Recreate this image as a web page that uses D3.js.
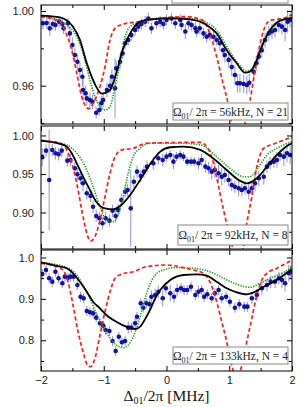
<!DOCTYPE html>
<html>
<head>
<meta charset="utf-8">
<script src="https://cdn.jsdelivr.net/npm/d3@7"></script>
<style>
  html, body { margin: 0; padding: 0; background: #fff; }
  svg { display: block; }
  .axis text { font-family: "Liberation Sans", Arial, sans-serif; font-size: 11px; fill: #222; }
  .axis line { stroke: #000; }
  .note { font-family: "Liberation Serif", "Times New Roman", serif; font-size: 11.5px; fill: #222; }
  .xtitle { font-family: "Liberation Serif", "Times New Roman", serif; font-size: 15.5px; fill: #111; }
</style>
</head>
<body>
<div id="chart"></div>
<script>
// ---- data ----
var xMajor = [-2, -1, 0, 1, 2],
    xMinor = [-1.5, -0.5, 0.5, 1.5];

var yMajor1 = [1.00, 0.96], yMinor1 = [0.98, 0.94];
var yMajor2 = [1.00, 0.95, 0.90], yMinor2 = [0.975, 0.925, 0.875];
var yMajor3 = [1.0, 0.9, 0.8], yMinor3 = [0.95, 0.85, 0.75];

var notes = ["56kHz, N = 21", "92kHz, N = 8", "133kHz, N = 4"];

// measured points: [detuning, signal, error]
var points1 = [[-1.97,0.9934,0.003],[-1.91,0.9936,0.003],[-1.86,0.9907,0.004],[-1.81,0.9930,0.003],[-1.77,0.9925,0.003],
  [-1.71,0.9943,0.003],[-1.66,0.9930,0.003],[-1.64,0.9907,0.003],[-1.57,0.9934,0.003],[-1.54,0.9880,0.004],
  [-1.50,0.9818,0.004],[-1.46,0.9764,0.004],[-1.42,0.9728,0.004],[-1.38,0.9684,0.004],[-1.34,0.9648,0.005],
  [-1.33,0.9577,0.006],[-1.29,0.9560,0.004],[-1.27,0.9532,0.004],[-1.22,0.9523,0.004],[-1.18,0.9514,0.004],
  [-1.12,0.9455,0.003],[-1.07,0.9470,0.003],[-1.04,0.9506,0.004],[-1.01,0.9523,0.004],[-0.95,0.9577,0.004],
  [-0.90,0.9600,0.004],[-0.87,0.9648,0.004],[-0.82,0.9586,0.016],[-0.80,0.9693,0.004],[-0.74,0.9728,0.004],
  [-0.70,0.9773,0.003],[-0.66,0.9827,0.003],[-0.61,0.9845,0.003],[-0.56,0.9871,0.003],[-0.50,0.9898,0.003],
  [-0.45,0.9916,0.003],[-0.40,0.9930,0.003],[-0.34,0.9943,0.003],[-0.29,0.9960,0.003],[-0.24,0.9907,0.003],
  [-0.16,0.9934,0.003],[-0.10,0.9943,0.003],[-0.05,0.9930,0.003],[0.00,0.9952,0.003],[0.08,0.9960,0.003],
  [0.14,0.9934,0.003],[0.22,0.9952,0.003],[0.24,0.9925,0.003],[0.30,0.9890,0.004],[0.35,0.9934,0.003],
  [0.40,0.9925,0.003],[0.46,0.9907,0.003],[0.48,0.9890,0.003],[0.53,0.9907,0.003],[0.59,0.9880,0.003],
  [0.64,0.9862,0.003],[0.69,0.9871,0.003],[0.75,0.9862,0.003],[0.80,0.9845,0.003],[0.85,0.9827,0.004],
  [0.90,0.9790,0.004],[0.93,0.9764,0.004],[0.99,0.9738,0.004],[1.04,0.9700,0.005],[1.09,0.9657,0.005],
  [1.13,0.9613,0.005],[1.17,0.9613,0.005],[1.23,0.9609,0.005],[1.28,0.9604,0.005],[1.32,0.9616,0.005],
  [1.39,0.9675,0.004],[1.43,0.9720,0.004],[1.47,0.9755,0.004],[1.52,0.9790,0.004],[1.57,0.9845,0.004],
  [1.63,0.9880,0.004],[1.68,0.9890,0.004],[1.73,0.9898,0.004],[1.79,0.9925,0.004],[1.84,0.9916,0.004],
  [1.89,0.9898,0.006],[1.93,0.9943,0.006],[1.97,0.9952,0.004]];

var points2 = [[-1.98,0.9717,0.012],[-1.92,0.9803,0.008],[-1.87,0.9422,0.065],[-1.82,0.9812,0.008],[-1.77,0.9769,0.008],
  [-1.72,0.9756,0.008],[-1.67,0.9803,0.008],[-1.58,0.9673,0.008],[-1.53,0.9682,0.008],[-1.46,0.9574,0.008],
  [-1.42,0.9496,0.008],[-1.37,0.9444,0.008],[-1.33,0.9379,0.010],[-1.27,0.9250,0.008],[-1.21,0.9214,0.008],
  [-1.17,0.9075,0.008],[-1.12,0.8955,0.008],[-1.07,0.8925,0.008],[-1.02,0.8860,0.008],[-0.97,0.8925,0.008],
  [-0.91,0.8894,0.008],[-0.86,0.9023,0.008],[-0.81,0.8955,0.008],[-0.77,0.9032,0.008],[-0.72,0.9162,0.008],
  [-0.66,0.9270,0.008],[-0.62,0.9292,0.008],[-0.57,0.9054,0.050],[-0.52,0.9400,0.008],[-0.47,0.9530,0.008],
  [-0.41,0.9474,0.008],[-0.36,0.9530,0.008],[-0.31,0.9595,0.008],[-0.21,0.9639,0.008],[-0.13,0.9704,0.008],
  [-0.06,0.9682,0.008],[0.00,0.9725,0.006],[0.06,0.9747,0.006],[0.11,0.9660,0.010],[0.16,0.9725,0.006],
  [0.22,0.9747,0.006],[0.27,0.9725,0.006],[0.33,0.9660,0.006],[0.39,0.9660,0.006],[0.44,0.9660,0.006],
  [0.51,0.9639,0.008],[0.56,0.9682,0.008],[0.62,0.9595,0.008],[0.67,0.9574,0.008],[0.72,0.9530,0.010],
  [0.77,0.9552,0.010],[0.83,0.9509,0.011],[0.88,0.9465,0.011],[0.93,0.9487,0.010],[0.99,0.9422,0.008],
  [1.04,0.9357,0.008],[1.09,0.9335,0.008],[1.15,0.9314,0.010],[1.20,0.9292,0.008],[1.25,0.9314,0.008],
  [1.31,0.9270,0.010],[1.36,0.9314,0.008],[1.41,0.9379,0.010],[1.47,0.9444,0.010],[1.55,0.9465,0.010],
  [1.60,0.9595,0.008],[1.65,0.9639,0.008],[1.71,0.9660,0.008],[1.76,0.9682,0.010],[1.81,0.9747,0.008],
  [1.87,0.9725,0.012],[1.92,0.9769,0.012],[1.97,0.9747,0.012]];

var points3 = [[-1.98,0.9600,0.012],[-1.92,0.9698,0.012],[-1.87,0.9498,0.012],[-1.82,0.9416,0.012],[-1.77,0.9657,0.012],
  [-1.72,0.9498,0.012],[-1.66,0.9376,0.012],[-1.62,0.9537,0.012],[-1.57,0.9513,0.012],[-1.53,0.9537,0.012],
  [-1.48,0.9537,0.012],[-1.42,0.9336,0.012],[-1.37,0.9053,0.012],[-1.32,0.9014,0.012],[-1.27,0.8708,0.012],
  [-1.22,0.8676,0.012],[-1.17,0.8651,0.012],[-1.12,0.8547,0.012],[-1.06,0.8410,0.012],[-1.01,0.8353,0.012],
  [-0.97,0.8249,0.012],[-0.91,0.8225,0.012],[-0.86,0.7983,0.012],[-0.81,0.7742,0.012],[-0.76,0.8087,0.012],
  [-0.71,0.7951,0.012],[-0.66,0.7983,0.012],[-0.61,0.8305,0.015],[-0.56,0.8305,0.012],[-0.50,0.8410,0.012],
  [-0.47,0.8570,0.012],[-0.41,0.8894,0.012],[-0.37,0.8787,0.012],[-0.32,0.8894,0.012],[-0.27,0.8870,0.012],
  [-0.24,0.9053,0.015],[-0.18,0.9094,0.015],[-0.13,0.9174,0.015],[-0.06,0.9014,0.020],[-0.01,0.9256,0.015],
  [0.06,0.9135,0.020],[0.12,0.9053,0.015],[0.17,0.9215,0.015],[0.23,0.9256,0.012],[0.28,0.9215,0.012],
  [0.33,0.9215,0.012],[0.39,0.9295,0.012],[0.46,0.9094,0.012],[0.51,0.9174,0.015],[0.56,0.9215,0.012],
  [0.60,0.9053,0.012],[0.65,0.9111,0.012],[0.72,0.9014,0.012],[0.77,0.9135,0.012],[0.83,0.9215,0.012],
  [0.88,0.9014,0.012],[0.95,0.9053,0.012],[1.01,0.8932,0.012],[1.09,0.8787,0.012],[1.16,0.8870,0.012],
  [1.24,0.8812,0.012],[1.29,0.8812,0.012],[1.36,0.9014,0.015],[1.44,0.9094,0.015],[1.52,0.9256,0.015],
  [1.60,0.9336,0.015],[1.66,0.9416,0.015],[1.73,0.9416,0.015],[1.79,0.9498,0.015],[1.84,0.9457,0.020],
  [1.89,0.9376,0.020],[1.95,0.9618,0.020],[1.98,0.9657,0.015]];

// model curves: [detuning, signal]
var black1 = [[-2.0,0.9975],[-1.70,0.9966],[-1.49,0.9916],[-1.38,0.9845],[-1.27,0.972],[-1.17,0.963],[-1.03,0.9558],
  [-0.90,0.9577],[-0.80,0.9667],[-0.70,0.979],[-0.58,0.988],[-0.42,0.9943],[-0.26,0.9955],[0.06,0.996],[0.375,0.9955],
  [0.64,0.9925],[0.80,0.988],[0.96,0.979],[1.12,0.972],[1.25,0.967],[1.33,0.9675],[1.44,0.9738],[1.54,0.9828],
  [1.65,0.9898],[1.81,0.9948],[2.0,0.9962]];
var red1 = [[-2.0,0.997],[-1.70,0.9943],[-1.60,0.988],[-1.51,0.979],[-1.43,0.9667],[-1.35,0.954],[-1.24,0.9477],
  [-1.17,0.9506],[-1.06,0.9595],[-0.98,0.970],[-0.90,0.9845],[-0.82,0.9907],[-0.69,0.993],[-0.42,0.9943],[-0.1,0.996],
  [0.3,0.997],[0.58,0.995],[0.69,0.988],[0.80,0.9755],[0.90,0.9614],[0.98,0.9507],[1.04,0.9395],[1.10,0.928],
  [1.155,0.924],[1.21,0.928],[1.25,0.9395],[1.33,0.952],[1.44,0.9738],[1.55,0.9898],[1.65,0.995],[1.86,0.996],[2.0,0.998]];
var green1 = [[-2.0,0.9972],[-1.80,0.996],[-1.59,0.9925],[-1.43,0.9862],[-1.33,0.9773],[-1.22,0.963],[-1.14,0.954],
  [-1.06,0.9488],[-0.98,0.947],[-0.90,0.9488],[-0.82,0.9595],[-0.74,0.972],[-0.66,0.9862],[-0.58,0.9916],[-0.42,0.994],
  [-0.26,0.9955],[0.06,0.9965],[0.375,0.996],[0.64,0.9937],[0.80,0.9898],[0.96,0.981],[1.12,0.9728],[1.28,0.9679],
  [1.38,0.9693],[1.49,0.9773],[1.60,0.9862],[1.76,0.9934],[2.0,0.9965]];

var black2 = [[-2.0,0.9932],[-1.70,0.989],[-1.59,0.9855],[-1.51,0.9769],[-1.43,0.9639],[-1.33,0.9465],[-1.22,0.9292],
  [-1.12,0.914],[-0.98,0.9054],[-0.85,0.9041],[-0.72,0.9097],[-0.58,0.9227],[-0.42,0.9422],[-0.26,0.963],[-0.10,0.979],
  [0.06,0.9847],[0.27,0.9855],[0.54,0.9812],[0.74,0.9704],[0.96,0.9552],[1.15,0.9422],[1.28,0.9379],[1.44,0.9444],
  [1.60,0.9595],[1.76,0.9747],[1.92,0.9864],[2.0,0.9899]];
var red2 = [[-2.0,0.9932],[-1.70,0.9902],[-1.59,0.9812],[-1.51,0.964],[-1.43,0.938],[-1.35,0.903],[-1.27,0.873],
  [-1.21,0.863],[-1.14,0.8686],[-1.06,0.890],[-0.98,0.9205],[-0.90,0.951],[-0.82,0.9725],[-0.72,0.981],[-0.53,0.9834],
  [-0.32,0.9899],[0.0,0.9907],[0.54,0.991],[0.64,0.9855],[0.75,0.964],[0.83,0.9335],[0.91,0.903],[0.99,0.875],
  [1.06,0.853],[1.13,0.835],[1.22,0.853],[1.28,0.886],[1.36,0.9205],[1.44,0.9595],[1.55,0.9834],[1.71,0.989],[2.0,0.998]];
var green2 = [[-2.0,0.9932],[-1.80,0.991],[-1.59,0.9877],[-1.43,0.9769],[-1.27,0.9552],[-1.17,0.9335],[-1.06,0.9075],
  [-0.96,0.890],[-0.85,0.888],[-0.77,0.8968],[-0.69,0.9205],[-0.61,0.951],[-0.53,0.9725],[-0.42,0.9834],[-0.26,0.9899],
  [0.2,0.990],[0.54,0.9877],[0.80,0.9725],[1.01,0.9574],[1.23,0.9465],[1.33,0.9465],[1.47,0.9595],[1.60,0.9747],
  [1.76,0.9834],[2.0,0.992]];

var black3 = [[-2.0,0.9884],[-1.75,0.9795],[-1.59,0.974],[-1.49,0.9618],[-1.38,0.9416],[-1.27,0.9174],[-1.17,0.8932],
  [-1.06,0.8772],[-0.96,0.8611],[-0.80,0.845],[-0.64,0.8329],[-0.50,0.8273],[-0.42,0.8329],[-0.32,0.857],[-0.26,0.874],
  [-0.18,0.9014],[-0.10,0.9215],[0.06,0.9457],[0.27,0.9577],[0.48,0.9594],[0.64,0.956],[0.80,0.9416],[0.96,0.9256],
  [1.12,0.9159],[1.28,0.9111],[1.39,0.9159],[1.55,0.9295],[1.71,0.9416],[1.87,0.9577],[2.0,0.9722]];
var red3 = [[-2.0,0.986],[-1.75,0.9775],[-1.65,0.9698],[-1.57,0.9416],[-1.49,0.8853],[-1.41,0.8208],[-1.33,0.7725],
  [-1.26,0.7403],[-1.21,0.7362],[-1.14,0.7565],[-1.06,0.8128],[-0.98,0.8691],[-0.90,0.9174],[-0.82,0.9498],[-0.72,0.9594],
  [-0.53,0.9657],[-0.32,0.9778],[0.0,0.9819],[0.27,0.9754],[0.43,0.9698],[0.59,0.9618],[0.69,0.9416],[0.80,0.8932],
  [0.88,0.845],[0.96,0.7966],[1.03,0.745],[1.12,0.71],[1.21,0.745],[1.28,0.7966],[1.36,0.853],[1.44,0.9094],
  [1.52,0.9457],[1.60,0.9618],[1.76,0.974],[2.0,0.994]];
var green3 = [[-2.0,0.9884],[-1.59,0.9754],[-1.43,0.9577],[-1.33,0.9336],[-1.22,0.9014],[-1.12,0.8651],[-1.01,0.8329],
  [-0.90,0.8048],[-0.80,0.7886],[-0.69,0.7822],[-0.61,0.7886],[-0.53,0.8087],[-0.45,0.841],[-0.37,0.8853],[-0.29,0.9256],
  [-0.18,0.9577],[-0.05,0.9698],[0.16,0.9754],[0.43,0.974],[0.69,0.9657],[0.91,0.9498],[1.12,0.9352],[1.33,0.928],
  [1.49,0.9376],[1.65,0.9498],[1.87,0.9642],[2.0,0.9778]];

// ---- layout ----
var width = 299, height = 407,
    left = 41, right = 292;

var panels = [
  {top: 5,   bottom: 124, domain: [0.9395, 1.0032], major: yMajor1, minor: yMinor1, fmt: ".2f",
   points: points1, black: black1, red: red1, green: green1, note: notes[0], box: [173, 103, 115, 17]},
  {top: 126, bottom: 249, domain: [0.8526, 1.0123], major: yMajor2, minor: yMinor2, fmt: ".2f",
   points: points2, black: black2, red: red2, green: green2, note: notes[1], box: [178, 225, 110, 20]},
  {top: 250, bottom: 371, domain: [0.7258, 1.0181], major: yMajor3, minor: yMinor3, fmt: ".1f",
   points: points3, black: black3, red: red3, green: green3, note: notes[2], box: [173, 347, 115, 17]}
];

var svg = d3.select("#chart").append("svg")
    .attr("width", width)
    .attr("height", height);

var x = d3.scaleLinear().domain([-2, 2]).range([left, right]);

// partly cut-off box at the very top
svg.append("rect")
    .attr("x", 172).attr("y", -10)
    .attr("width", 116).attr("height", 13)
    .attr("fill", "#fff").attr("stroke", "#888");

panels.forEach(function(p, i) {
    var y = d3.scaleLinear().domain(p.domain).range([p.bottom, p.top]);
    var g = svg.append("g");

    g.append("clipPath").attr("id", "clip" + i)
        .append("rect")
        .attr("x", left).attr("y", p.top)
        .attr("width", right - left).attr("height", p.bottom - p.top);

    var plot = g.append("g").attr("clip-path", "url(#clip" + i + ")");

    // error bars
    plot.append("g").selectAll("line")
        .data(p.points)
        .enter().append("line")
        .attr("x1", function(d) { return x(d[0]); })
        .attr("x2", function(d) { return x(d[0]); })
        .attr("y1", function(d) { return y(d[1] - d[2]); })
        .attr("y2", function(d) { return y(d[1] + d[2]); })
        .attr("stroke", "#9a9ae0")
        .attr("stroke-width", 1.1);

    // data points
    plot.append("g").selectAll("circle")
        .data(p.points)
        .enter().append("circle")
        .attr("cx", function(d) { return x(d[0]); })
        .attr("cy", function(d) { return y(d[1]); })
        .attr("r", 2.3)
        .attr("fill", "#1212a0");

    var line = d3.line()
        .x(function(d) { return x(d[0]); })
        .y(function(d) { return y(d[1]); })
        .curve(d3.curveMonotoneX);

    plot.append("path").datum(p.green)
        .attr("d", line).attr("fill", "none")
        .attr("stroke", "#1a9a1a").attr("stroke-width", 1.6)
        .attr("stroke-dasharray", "1.3,1.3");

    plot.append("path").datum(p.red)
        .attr("d", line).attr("fill", "none")
        .attr("stroke", "#ff1a1a").attr("stroke-width", 1.7)
        .attr("stroke-dasharray", "4,2.5");

    plot.append("path").datum(p.black)
        .attr("d", line).attr("fill", "none")
        .attr("stroke", "#000").attr("stroke-width", 1.8);

    // axes, ticks pointing inward on all four sides
    var fmt = d3.format(p.fmt);
    var yl = g.append("g").attr("class", "axis")
        .attr("transform", "translate(" + left + ",0)")
        .call(d3.axisLeft(y).tickValues(p.major).tickSize(-5).tickPadding(7).tickFormat(fmt));
    yl.select(".domain").remove();
    g.append("g").attr("class", "axis")
        .attr("transform", "translate(" + left + ",0)")
        .call(d3.axisLeft(y).tickValues(p.minor).tickSize(-3).tickFormat(""))
        .select(".domain").remove();
    g.append("g").attr("class", "axis")
        .attr("transform", "translate(" + right + ",0)")
        .call(d3.axisRight(y).tickValues(p.major).tickSize(-5).tickFormat(""))
        .select(".domain").remove();
    g.append("g").attr("class", "axis")
        .attr("transform", "translate(" + right + ",0)")
        .call(d3.axisRight(y).tickValues(p.minor).tickSize(-3).tickFormat(""))
        .select(".domain").remove();

    g.append("g").attr("class", "axis")
        .attr("transform", "translate(0," + p.top + ")")
        .call(d3.axisTop(x).tickValues(xMajor).tickSize(-5).tickFormat(""))
        .select(".domain").remove();
    g.append("g").attr("class", "axis")
        .attr("transform", "translate(0," + p.top + ")")
        .call(d3.axisTop(x).tickValues(xMinor).tickSize(-3).tickFormat(""))
        .select(".domain").remove();
    var xb = g.append("g").attr("class", "axis")
        .attr("transform", "translate(0," + p.bottom + ")")
        .call(d3.axisBottom(x).tickValues(xMajor).tickSize(-5).tickPadding(5)
            .tickFormat(i === 2 ? d3.format("d") : ""));
    xb.select(".domain").remove();
    g.append("g").attr("class", "axis")
        .attr("transform", "translate(0," + p.bottom + ")")
        .call(d3.axisBottom(x).tickValues(xMinor).tickSize(-3).tickFormat(""))
        .select(".domain").remove();

    // frame
    g.append("rect")
        .attr("x", left).attr("y", p.top)
        .attr("width", right - left).attr("height", p.bottom - p.top)
        .attr("fill", "none").attr("stroke", "#000").attr("stroke-width", 1);

    // parameter box
    g.append("rect")
        .attr("x", p.box[0]).attr("y", p.box[1])
        .attr("width", p.box[2]).attr("height", p.box[3])
        .attr("fill", "#fff").attr("stroke", "#888");
    var t = g.append("text").attr("class", "note")
        .attr("x", p.box[0] + p.box[2] / 2)
        .attr("y", p.box[1] + p.box[3] / 2 + 4)
        .attr("text-anchor", "middle");
    t.append("tspan").text("\u03A9");
    t.append("tspan").attr("dy", 3).attr("font-size", "8px").text("01");
    t.append("tspan").attr("dy", -3).text("/ 2\u03C0 = " + p.note);
});

// x axis title
var title = svg.append("text")
    .attr("class", "xtitle")
    .attr("x", x(0))
    .attr("y", 401)
    .attr("text-anchor", "middle");
title.append("tspan").text("\u0394");
title.append("tspan").attr("dy", 3).attr("font-size", "10px").text("01");
title.append("tspan").attr("dy", -3).text("/2\u03C0  [MHz]");
</script>
</body>
</html>
